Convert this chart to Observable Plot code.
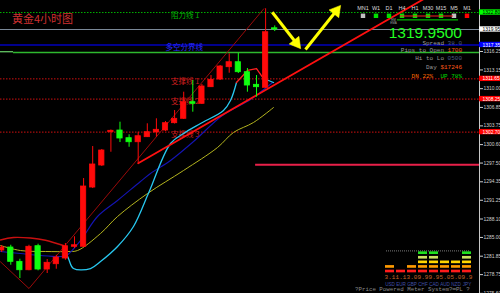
<!DOCTYPE html>
<html>
<head>
<meta charset="utf-8">
<script src="https://cdn.jsdelivr.net/npm/d3@7"></script>
<script src="https://cdn.jsdelivr.net/npm/@observablehq/plot@0.6"></script>
<style>
  html, body { margin: 0; padding: 0; background: #000; }
  #wrap { position: relative; width: 500px; height: 293px; overflow: hidden; background: #000; }
  #wrap svg { position: absolute; left: 0; top: 0; }
  .t { position: absolute; white-space: pre; line-height: 1; }
</style>
</head>
<body>
<div id="wrap"></div>
<script>
// ---- XAUUSD H4 bars (index 0 = oldest visible bar) ----
const open  = [1282.80,1283.31,1280.90,1279.49,1283.53,1279.61,1280.50,1281.46,1283.43,1283.43,
               1293.39,1297.09,1302.69,1302.97,1301.68,1301.00,1301.85,1302.64,1302.97,1304.20,
               1304.94,1307.73,1307.46,1310.25,1311.54,1313.61,1314.45,1312.77,1310.65,1310.15,1320.15];
const high  = [1283.64,1283.69,1281.34,1283.69,1283.86,1281.29,1282.01,1283.98,1285.11,1294.90,
               1300.28,1299.78,1303.06,1304.37,1302.25,1302.69,1304.10,1304.94,1304.48,1306.33,
               1309.41,1311.37,1310.70,1312.21,1313.90,1315.86,1315.96,1313.39,1312.21,1323.43,1320.55];
const low   = [1282.47,1280.33,1278.10,1279.40,1279.39,1278.94,1279.66,1281.17,1283.14,1283.31,
               1293.22,1296.92,1299.32,1300.95,1300.16,1297.48,1301.80,1301.85,1302.80,1304.06,
               1304.82,1306.05,1307.34,1310.20,1311.37,1312.60,1312.55,1309.41,1308.57,1310.03,1319.60];
const close = [1283.31,1280.90,1279.49,1283.43,1279.61,1280.74,1281.63,1283.53,1283.69,1293.56,
               1297.26,1299.61,1302.92,1301.63,1301.00,1302.01,1302.69,1303.09,1304.20,1304.94,
               1307.73,1307.46,1310.37,1311.49,1313.73,1314.45,1312.77,1310.53,1310.25,1319.49,1319.95];

// ---- moving averages (bar index, price) ----
const slowIdx = [-0.13,2.07,4.26,6.46,7.12,8.66,10.53,12.73,15.25,16.35,18.55,21.08,24.26,27.34,28.66,29.76];
const slowPx  = [1282.64,1282.30,1281.96,1281.79,1281.96,1284.48,1288.52,1291.21,1294.40,1295.75,1297.93,1301.12,1305.49,1308.18,1309.69,1311.04];
const fastIdx = [6.79,7.34,7.89,9.76,10.86,12.73,14.48,16.02,16.35,18.55,19.98,21.85,24.37,25.14,25.80];
const fastPx  = [1283.48,1281.46,1279.78,1279.78,1280.95,1283.48,1286.84,1292.05,1293.22,1300.79,1302.47,1304.15,1306.33,1308.01,1311.04];
const turnIdx = [25.80,27.01,28.00,28.77];
const turnPx  = [1311.04,1313.06,1313.39,1311.71];
const tailIdx = [28.77,29.87];
const tailPx  = [1311.71,1311.04];
const midIdx  = [-0.13,2.07,4.81,7.23,8.33,10.86,12.73,16.02,19.98,23.71,25.47,27.67,29.87];
const midPx   = [1283.64,1282.80,1282.64,1282.64,1282.80,1285.66,1288.52,1292.38,1296.25,1300.11,1302.64,1304.32,1306.84];

// ---- drawn objects ----
const arcIdx = [-0.13,1.30,3.16,4.81,6.79];
const arcPx  = [1284.57,1284.99,1284.90,1284.52,1283.64];
const vIdx   = [-0.13,3.0,28.8];
const vPx    = [1280.90,1276.42,1323.43];
const trendIdx = [15, 28];
const trendPx  = [1297.48, 1308.91];
const arrowX1 = [29.73, 33.38];
const arrowY1 = [1322.85, 1316.59];
const arrowX2 = [32.84, 37.23];
const arrowY2 = [1316.75, 1323.98];

// ---- horizontal levels ----
const levelNames = ["阻力线 1", "多空分界线", "支撑线 1", "支撑线 2", "支撑线 3"];
const levelPx    = [1322.80, 1317.35, 1311.65, 1308.25, 1302.70];
const bid = 1319.95;
const pivotLow = 1316.08;
const targetPx = 1297.20;
const targetFrom = 27.9;

// ---- right price axis ----
const yTicks = [1316.25,1313.15,1310.00,1306.85,1303.75,1300.60,1297.50,1294.35,1291.25,1288.10,1285.00,1281.85,1278.75,1275.60];

// ---- info panel ----
const spread = "38.0";
const pipsToOpen = "1700";
const hiToLo = "0500";
const dayValue = "$17246";
const dnPct = 22, upPct = 78;
const tfNames = ["MN1","W1","D1","H4","H1","M30","M15","M5","M1"];
const tfState = [0,1,1,1,1,1,1,0,-1];

// ---- currency strength meter ----
const meterCur = ["USD","EUR","GBP","CHF","CAD","AUD","NZD","JPY"];
const meterVal = [3.1,1.1,3.0,9.9,9.9,5.0,5.0,9.9];

// =====================================================================
const W = 500, H = 293, MR = 21;
const upColor = "#ff0a0a", dnColor = "#10ff10";
const cjk = "'Noto Sans CJK SC', sans-serif";
const xDom = [-0.13, 52.5];
const yDom = [1275.58, 1324.82];
const pts = (xs, ys) => xs.map((x, k) => ({x, y: ys[k]}));
const bars = open.map((o, i) => ({i, o, h: high[i], l: low[i], c: close[i]}));
const barColor = d => d.c >= d.o ? upColor : dnColor;
const slope = (trendPx[1] - trendPx[0]) / (trendIdx[1] - trendIdx[0]);
const trendLine = [{x: trendIdx[0], y: trendPx[0]}, {x: xDom[1], y: trendPx[0] + slope * (xDom[1] - trendIdx[0])}];
const levelColors = ["#00b400", "#2a2aff", "#c81e1e", "#c81e1e", "#c81e1e"];
const boxes = [levelPx[0], bid, levelPx[1], levelPx[2], levelPx[3], levelPx[4]];
const boxFill = ["#00ff00", "#ffffff", "#0000ff", "#ff0000", "#ff0000", "#ff0000"];
const boxText = ["#000", "#000", "#fff", "#fff", "#fff", "#fff"];

// arrow shafts end behind a filled triangular head
const pxX = (W - MR) / (xDom[1] - xDom[0]);
const pxY = H / (yDom[1] - yDom[0]);
const arrows = arrowX1.map((x1, k) => {
  const x2 = arrowX2[k], y2 = arrowY2[k], y1 = arrowY1[k];
  const dx = (x2 - x1) * pxX, dy = -(y2 - y1) * pxY;
  const len = Math.hypot(dx, dy), ux = dx / len, uy = dy / len;
  const back = 7;
  return {
    x1, y1,
    hx: x2 - back * ux / pxX, hy: y2 + back * uy / pxY,
    rot: Math.atan2(ux, -uy) * 180 / Math.PI
  };
});

const main = Plot.plot({
  width: W, height: H,
  marginLeft: 0, marginRight: MR, marginTop: 0, marginBottom: 0,
  x: {domain: xDom, axis: null},
  y: {domain: yDom, label: null},
  color: {type: "identity"},
  style: {background: "#000", color: "#d0d0d0", overflow: "visible"},
  marks: [
    // levels
    Plot.ruleY([levelPx[0]], {stroke: "#00b000", strokeDasharray: "1.5,1.5"}),
    Plot.ruleY([bid], {stroke: "#7a8898", strokeWidth: 1.2}),
    Plot.ruleY([levelPx[1]], {stroke: "#00008c", strokeWidth: 2}),
    Plot.ruleY([pivotLow], {x1: 1.3, x2: xDom[1], stroke: "#2eb82e", strokeWidth: 1.4}),
    Plot.ruleY([pivotLow + 0.12], {x1: xDom[0], x2: 1.3, stroke: "#80ff80", strokeWidth: 1}),
    Plot.ruleY(levelPx.slice(2), {stroke: "#d01010", strokeDasharray: "1.5,1.5"}),
    Plot.ruleY([targetPx], {x1: targetFrom, x2: xDom[1], stroke: "#e8204a", strokeWidth: 2}),
    Plot.text(levelNames, {
      x: (d, i) => i === 1 ? 18.0 : 18.6, y: (d, i) => levelPx[i], text: d => d,
      textAnchor: "start", lineAnchor: "top", fontSize: 7.5, fontFamily: cjk,
      fill: (d, i) => levelColors[i]
    }),
    // moving averages
    Plot.line(pts(midIdx, midPx), {x: "x", y: "y", stroke: "#b4b41e", strokeWidth: 1, curve: "catmull-rom"}),
    Plot.line(pts(slowIdx, slowPx), {x: "x", y: "y", stroke: "#1414b4", strokeWidth: 1.1, curve: "catmull-rom"}),
    Plot.line(pts(fastIdx, fastPx), {x: "x", y: "y", stroke: "#28c8f0", strokeWidth: 1.3, curve: "catmull-rom"}),
    Plot.line(pts(turnIdx, turnPx), {x: "x", y: "y", stroke: "#ff2020", strokeWidth: 1.3}),
    Plot.line(pts(tailIdx, tailPx), {x: "x", y: "y", stroke: "#28c8f0", strokeWidth: 1.3}),
    // drawn trend objects
    Plot.line(pts(arcIdx, arcPx), {x: "x", y: "y", stroke: "#c81010", strokeWidth: 1.4, curve: "natural"}),
    Plot.line(pts(vIdx, vPx), {x: "x", y: "y", stroke: "#9a0a0a", strokeWidth: 1}),
    Plot.line(trendLine, {x: "x", y: "y", stroke: "#ff1010", strokeWidth: 1.8, clip: true}),
    // candles
    Plot.ruleX(bars, {x: "i", y1: "l", y2: "h", stroke: barColor, strokeWidth: 1}),
    Plot.rect(bars, {x1: d => d.i - 0.29, x2: d => d.i + 0.29, y1: "o", y2: "c", fill: barColor, stroke: barColor, strokeWidth: 0.8}),
    // arrows
    Plot.link(arrows, {x1: "x1", y1: "y1", x2: "hx", y2: "hy", stroke: "#ffff00", strokeWidth: 3}),
    Plot.dot(arrows, {x: "hx", y: "hy", symbol: "triangle", r: 4.6, rotate: "rot", fill: "#ffff00", stroke: "#ffff00", strokeWidth: 0.5}),
    // price axis
    Plot.ruleX([xDom[1]], {stroke: "#c8c8c8"}),
    Plot.axisY(yTicks, {anchor: "right", label: null, tickFormat: d => d.toFixed(2), tickSize: 3, tickPadding: 1, fontSize: 4.9, fontFamily: "Liberation Sans"}),
    Plot.rect(boxes, {x1: xDom[1], x2: xDom[1] + 2.4, y1: d => d - 0.45, y2: d => d + 0.45, fill: (d, i) => boxFill[i]}),
    Plot.text(boxes, {x: xDom[1], y: d => d, dx: 3, text: d => d.toFixed(2), textAnchor: "start", fontSize: 4.9, fontFamily: "Liberation Sans", fill: (d, i) => boxText[i]})
  ]
});
document.getElementById("wrap").appendChild(main);

// ---- timeframe trend panel ----
const tfColor = s => s > 0 ? "#00e000" : s < 0 ? "#ff0000" : "#c0c0c0";
const panel = Plot.plot({
  width: W, height: 30, margin: 0,
  x: {domain: [0, 8], range: [362.5, 466.5], axis: null},
  y: {domain: [0, 30], range: [0, 30], axis: null},
  color: {type: "identity"},
  style: {background: "transparent", overflow: "visible"},
  marks: [
    Plot.text(tfNames, {x: (d, i) => i, y: 8, text: d => d, fontSize: 5.5, fontFamily: "Liberation Sans", fill: "#dcdcdc"}),
    Plot.dot(tfNames, {x: (d, i) => i, y: 15.3, symbol: "square", r: 2.5, fill: (d, i) => tfColor(tfState[i])}),
    Plot.ruleY([15.5], {x1: 2.88, x2: 6.96, stroke: "#ff2020", strokeWidth: 1}),
    Plot.ruleY([19.4], {x1: 2.65, x2: 7.35, stroke: "#00e000", strokeWidth: 1}),
    Plot.text(["EM", "EMA"], {x: 2.35, y: (d, i) => 19.6 + 3.4 * i, text: d => d, fontSize: 3, fontFamily: "Liberation Sans", fill: "#a0a0a0"})
  ]
});
panel.style.top = "0px";
document.getElementById("wrap").appendChild(panel);

// ---- currency strength meter ----
const levelFill = ["#ff1a1a", "#ff9a00", "#ffd400", "#c8e060", "#1ee01e"];
const cells = meterCur.flatMap((c, i) => d3.range(1, Math.ceil(meterVal[i] / 2) + 1).map(lv => ({c, lv})));
const meter = Plot.plot({
  width: W, height: 53,
  marginLeft: 386, marginRight: 30, marginTop: 0, marginBottom: 0,
  x: {type: "band", domain: meterCur, range: [382.3, 473.7], padding: 0.18, axis: null},
  y: {domain: [0.5, 5.5], range: [33.3, 10.4], axis: null},
  color: {type: "identity"},
  style: {background: "transparent", overflow: "visible"},
  marks: [
    Plot.ruleY([5.5], {stroke: "#7a7a7a", strokeDasharray: "1,1"}),
    Plot.barY(cells, {x: "c", y1: d => d.lv - 0.29, y2: d => d.lv + 0.29, fill: d => levelFill[d.lv - 1]}),
    Plot.text(meterCur, {x: d => d, y: -0.2, text: (d, i) => meterVal[i].toFixed(1), fontSize: 6, fontFamily: "Liberation Mono", fill: "#c86428"}),
    Plot.text(meterCur, {x: d => d, y: -1.85, text: d => d, fontSize: 4.6, fontFamily: "Liberation Sans", fill: "#4050a8"})
  ]
});
meter.style.top = "240px";
document.getElementById("wrap").appendChild(meter);

// ---- text overlays ----
const wrap = d3.select("#wrap");
function put(html, css) {
  wrap.append("div").attr("class", "t").attr("style", css).html(html);
}
const mono = "font-family:'Liberation Mono',monospace;font-size:6px;";
put("黄金4小时图", `left:12px;top:13px;font-family:${cjk};font-size:11px;color:#d03030;`);
put(bid.toFixed(4), "right:38px;top:28px;line-height:0.7;font-family:'Liberation Sans',sans-serif;font-size:15.5px;color:#22ff22;");
put(`<span style="color:#9a9a9a">Spread </span><span style="color:#4a5a88">${spread}</span>`, `right:38px;top:41.3px;${mono}`);
put(`<span style="color:#9a9a9a">Pips to Open </span><span style="color:#ff5a1a">${pipsToOpen}</span>`, `right:38px;top:47.6px;${mono}`);
put(`<span style="color:#9a9a9a">Hi to Lo </span><span style="color:#4a5a88">${hiToLo}</span>`, `right:38px;top:56.4px;${mono}`);
put(`<span style="color:#9a9a9a">Day </span><span style="color:#ff5a1a">${dayValue}</span>`, `right:38px;top:65.4px;${mono}`);
put(`<span style="color:#ff6a00">DN ${dnPct}%</span>  <span style="color:#00dd00">UP ${upPct}%</span>`, `right:38px;top:74.4px;${mono}`);
put("?Price Powered Meter System?═PL ?", "left:355px;top:286.5px;font-family:'Liberation Mono',monospace;font-size:5.8px;color:#8a8a8a;");
</script>
</body>
</html>
